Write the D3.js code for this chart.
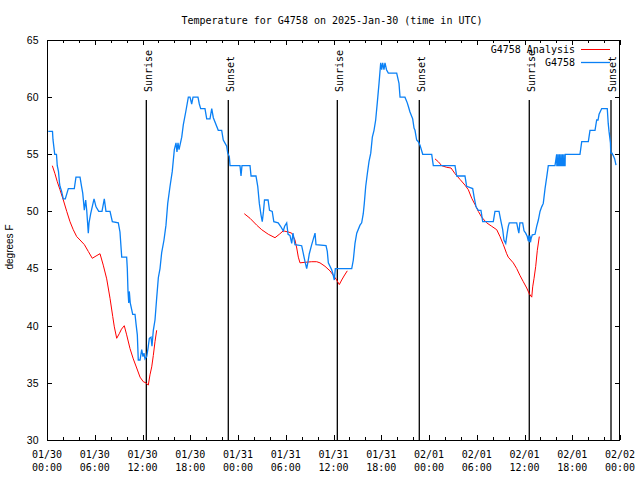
<!DOCTYPE html>
<html><head><meta charset="utf-8">
<script src="https://cdn.jsdelivr.net/npm/d3@7"></script>
<style>body{margin:0;background:#fff}svg{display:block}</style>
</head><body>
<script>
// ---- data (hours since 2025-01-30 00:00 UTC, degrees F) ----
const startMs = Date.UTC(2025, 0, 30);
const spanHours = 72;
const chartTitle = "Temperature for G4758 on 2025-Jan-30 (time in UTC)";
const yLabel = "degrees F";
const yTicks = [30, 35, 40, 45, 50, 55, 60, 65];
const seriesNames = ["G4758 Analysis", "G4758"];
const sunriseHours = [12.48, 36.48, 60.6];
const sunsetHours = [22.78, 46.78, 70.87];

const observed = [
 [0.16,57],[0.69,57],[0.75,56.3],[0.97,55],[1.19,55],[1.29,54],[1.44,53.5],[1.57,52.5],[1.63,52.2],[1.82,51.8],[2.05,51.1],[2.3,51.1],
 [2.68,52],[3.43,52],[3.64,53],[4.15,53],[4.34,52.2],[4.49,51.6],[4.69,50.1],[4.86,51],[4.99,50.1],[5.19,48.1],[5.28,49],[5.49,49.8],
 [5.91,51.1],[6.16,50.4],[6.5,50],[6.91,50],[7.2,51.1],[7.41,50],[7.92,50],[8.21,49.1],[8.96,49],[9.17,48.2],[9.39,46],[10.01,46],
 [10.09,45],[10.18,43],[10.27,42],[10.34,43],[10.46,42],[10.77,41],[11.06,41],[11.18,40.2],[11.35,39.2],[11.47,37],[11.69,37],
 [11.9,37.9],[12.06,37.3],[12.19,37.6],[12.31,37.1],[12.53,37.3],[12.69,38],[12.86,38.9],[13.07,39],[13.19,38.2],[13.36,39.6],
 [13.57,40.5],[13.78,42.4],[13.99,44.2],[14.2,45],[14.41,46.4],[14.7,47.5],[14.95,48.8],[15.17,50.7],[15.46,52.2],[15.74,53.5],
 [16.0,55.4],[16.21,56],[16.33,55.2],[16.46,56],[16.59,55.4],[16.93,56.5],[17.13,57.6],[17.43,58.7],[17.76,60],[17.97,60],
 [18.18,59.4],[18.35,60],[18.97,60],[19.14,59.4],[19.31,59],[19.85,59],[20.07,58.1],[20.48,58.1],[20.7,59],[20.9,58.2],
 [21.52,57.1],[21.95,57.1],[22.15,56.25],[22.58,55.7],[22.71,55.1],[22.91,54.8],[23.0,54],[24.25,54],[24.38,53.1],[24.5,54],
 [25.51,54],[25.64,53.1],[26.26,53.1],[26.48,52.2],[26.68,50.7],[26.89,49.7],[27.05,49.1],[27.2,50],[27.33,51],[27.78,51],
 [27.96,50.1],[28.3,50],[28.5,49.1],[29.05,49],[29.35,48.7],[29.69,48.3],[29.86,48.7],[30.12,49],[30.29,48],[30.53,47.9],
 [30.75,47.2],[30.91,48.1],[31.16,47.1],[32.0,47],[32.21,46.3],[32.42,45.6],[32.63,45],[32.8,45.6],[32.96,46.3],[33.26,47.1],
 [33.47,47.6],[33.68,48.1],[33.8,47.1],[35.06,47],[35.22,46.5],[35.35,45.5],[35.77,44.9],[35.94,44.5],[36.1,44],[36.23,45],
 [38.29,45],[38.49,45.75],[38.7,47.2],[38.92,48.1],[39.33,48.8],[39.54,49],[39.74,49.8],[39.87,50.7],[40.05,52.2],[40.25,53.3],
 [40.46,54.35],[40.68,55.1],[40.88,56.5],[41.09,57.1],[41.3,58],[41.5,59.5],[41.72,61.2],[41.93,63],[42.06,62.4],[42.18,63],
 [42.34,62.4],[42.47,63],[42.66,62.4],[42.89,62.1],[43.94,62.1],[44.23,61.2],[44.36,60],[44.98,60],[45.27,59.5],[45.4,59.2],
 [45.61,58.7],[45.95,58.1],[46.12,57.3],[46.24,57.1],[46.45,56.25],[46.66,56.1],[46.87,55.8],[47.21,55],[48.34,55],[48.54,54],
 [51.27,54],[51.48,53.1],[52.52,53.1],[52.73,52.2],[53.49,52],[53.66,51.3],[53.91,50.4],[54.2,50.1],[54.53,50.1],[54.75,49.1],
 [56.08,49.1],[56.29,50],[56.8,50],[57.05,49.1],[57.26,48.4],[57.42,47.5],[57.64,47.2],[57.8,48],[57.96,48.7],[58.09,49],
 [59.02,49],[59.19,48.4],[59.29,48.1],[59.42,49],[59.77,49],[59.94,48.3],[60.15,48.1],[60.35,47.8],[60.48,47.4],[60.56,47.9],
 [60.63,47.3],[60.69,47.9],[60.75,47.3],[60.82,47.6],[60.98,47.95],[61.32,48],[61.53,48.7],[61.74,49.25],[61.95,50],[62.16,50.4],
 [62.36,50.7],[62.58,52],[62.79,53],[62.99,54],[63.83,54],[64.04,55],[64.06,54],[64.2,54],[64.22,55],[64.24,54],[64.38,54],
 [64.4,55],[64.42,54],[64.56,54],[64.58,55],[64.6,54],[64.74,54],[64.76,55],[64.78,54],[64.92,54],[64.94,55],[64.96,54],
 [65.1,54],[65.12,55],[65.45,55],[66.97,55],[67.19,56.1],[68.02,56.1],[68.23,57.1],[68.86,57.1],
 [69.07,58],[69.24,58],[69.37,58.5],[69.7,59],[70.4,59],[70.52,57.7],[70.62,57],[70.8,56],[70.84,55.1],[71.0,55.1],
 [71.2,54.8],[71.33,54.6],[71.5,54.06]
];

const analysisNight1 = [
 [0.67,54.0],[1.0,53.3],[1.29,52.6],[1.63,51.9],[2.05,51],[2.48,50],[2.89,49.1],[3.3,48.4],[3.73,47.8],[4.15,47.5],[4.69,47.1],
 [5.19,46.5],[5.69,45.9],[6.16,46.1],[6.66,46.3],[7.07,45.3],[7.5,44.1],[7.92,42.4],[8.26,40.8],[8.46,39.9],[8.76,38.9],
 [9.08,39.3],[9.36,39.7],[9.71,40.0],[10.01,39.2],[10.43,38.0],[10.84,37.1],[11.27,36.3],[11.69,35.5],[12.1,35.1],[12.44,35.0],
 [12.73,34.8],[12.94,35.7],[13.16,36.4],[13.36,37.4],[13.57,38.6],[13.78,39.6]
];
const analysisNight2 = [
 [24.79,49.8],[25.51,49.4],[26.35,48.8],[26.98,48.4],[27.81,48.0],[28.65,47.7],[29.19,48.0],[29.69,48.3],[30.32,48.2],
 [30.75,48.1],[31.16,47.5],[31.38,46.8],[31.58,46.0],[31.79,45.5],[32.42,45.55],[33.26,45.6],[33.89,45.6],[34.3,45.5],
 [34.93,45.2],[35.56,44.8],[35.98,44.4],[36.4,44.0],[36.73,43.6],[37.03,44.0],[37.32,44.35],[37.73,44.8]
];
const analysisNight3 = [
 [48.75,54.6],[49.17,54.35],[49.6,54.0],[50.23,53.86],[50.77,53.8],[51.27,53.3],[51.9,52.8],[52.52,52.3],[52.94,51.9],
 [53.37,51.15],[53.78,50.6],[54.2,50],[54.62,49.5],[55.25,49],[55.88,48.7],[56.51,48.4],[56.92,47.8],[57.34,47.1],[57.76,46.3],
 [57.96,46.0],[58.59,45.5],[59.02,45.0],[59.43,44.4],[59.85,43.85],[60.28,43.3],[60.6,42.8],[60.91,42.5],[61.03,43.4],
 [61.2,44.15],[61.41,45.2],[61.61,46.6],[61.86,47.8]
];

// ---- layout ----
const W = 640, H = 480, L = 47, R = 620, T = 40, B = 440;
const mono = "'DejaVu Sans Mono', monospace";
const sans = "'Liberation Sans', Arial, sans-serif";
const blue = "#0a80f5", red = "#ff0000";

const toDate = h => new Date(startMs + h * 3600e3);
const x = d3.scaleUtc().domain([toDate(0), toDate(spanHours)]).range([L, R]);
const y = d3.scaleLinear().domain([30, 65]).range([B, T]);

const svg = d3.select("body").append("svg").attr("width", W).attr("height", H)
  .style("background", "#fff");

// ticks
const majorX = x.ticks(d3.utcHour.every(6));
const minorX = x.ticks(d3.utcHour.every(2)).filter(d => d.getUTCHours() % 6 !== 0);
const tickG = svg.append("g").attr("stroke", "#000").attr("stroke-width", 1).attr("shape-rendering", "crispEdges");
const xt = (arr, len) => arr.forEach(d => {
  const px = Math.round(x(d)) + 0.5;
  tickG.append("line").attr("x1", px).attr("x2", px).attr("y1", B).attr("y2", B - len);
  tickG.append("line").attr("x1", px).attr("x2", px).attr("y1", T).attr("y2", T + len);
});
xt(majorX, 5); xt(minorX, 3);
yTicks.forEach(v => {
  const py = Math.round(y(v)) + 0.5;
  tickG.append("line").attr("x1", L).attr("x2", L + 5).attr("y1", py).attr("y2", py);
  tickG.append("line").attr("x1", R).attr("x2", R - 5).attr("y1", py).attr("y2", py);
});

// x tick labels
const fmtDay = d3.utcFormat("%m/%d"), fmtHour = d3.utcFormat("%H:%M");
const xl = svg.append("g").attr("font-family", mono).attr("font-size", 10).attr("text-anchor", "middle").attr("fill", "#000");
majorX.forEach(d => {
  xl.append("text").attr("x", x(d)).attr("y", 458).text(fmtDay(d));
  xl.append("text").attr("x", x(d)).attr("y", 471).text(fmtHour(d));
});

// y tick labels
const yl = svg.append("g").attr("font-family", sans).attr("font-size", 10.5).attr("text-anchor", "end").attr("fill", "#000");
yTicks.forEach(v => yl.append("text").attr("x", 38.5).attr("y", y(v) + 3.8).text(v));

svg.append("text").attr("transform", "translate(13,247) rotate(-90)").attr("text-anchor", "middle")
  .attr("font-family", sans).attr("font-size", 10).text(yLabel);

svg.append("text").attr("x", 332).attr("y", 24).attr("text-anchor", "middle")
  .attr("font-family", mono).attr("font-size", 10).text(chartTitle);

// sunrise / sunset markers
const lineTop = T + (B - T) * 0.15;
const sunEvents = sunriseHours.map(h => [h, "Sunrise"]).concat(sunsetHours.map(h => [h, "Sunset"]));
sunEvents.forEach(([h, label]) => {
  const px = x(toDate(h));
  svg.append("line").attr("x1", px).attr("x2", px).attr("y1", lineTop).attr("y2", B)
    .attr("stroke", "#000").attr("stroke-width", 1.3);
  svg.append("text").attr("transform", `translate(${px + 5.3},${lineTop - 8}) rotate(-90)`)
    .attr("font-family", mono).attr("font-size", 10).attr("fill", "#000").text(label);
});

// series
const line = d3.line().x(d => x(toDate(d[0]))).y(d => y(d[1]));
[analysisNight1, analysisNight2, analysisNight3].forEach(seg =>
  svg.append("path").datum(seg).attr("d", line).attr("fill", "none").attr("stroke", red).attr("stroke-width", 1));
svg.append("path").datum(observed).attr("d", line).attr("fill", "none").attr("stroke", blue)
  .attr("stroke-width", 1.3).attr("stroke-linejoin", "miter");

// legend
const lg = svg.append("g").attr("font-family", mono).attr("font-size", 10);
[[seriesNames[0], red, 49.5], [seriesNames[1], blue, 62.5]].forEach(([name, col, ly]) => {
  lg.append("text").attr("x", 575).attr("y", ly + 3.6).attr("text-anchor", "end").text(name);
  lg.append("line").attr("x1", 581).attr("x2", 610).attr("y1", ly).attr("y2", ly).attr("stroke", col).attr("stroke-width", col === blue ? 1.3 : 1);
});

// border
svg.append("rect").attr("x", L + 0.5).attr("y", T + 0.5).attr("width", R - L - 1).attr("height", B - T)
  .attr("fill", "none").attr("stroke", "#000").attr("stroke-width", 1).attr("shape-rendering", "crispEdges");
</script>
</body></html>
